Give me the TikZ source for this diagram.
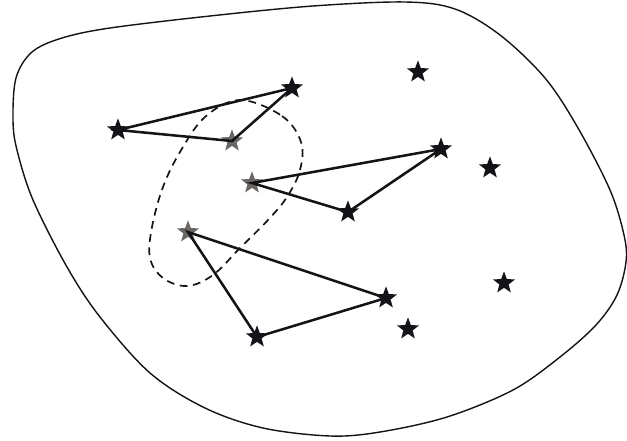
\documentclass[tikz,border=0pt]{standalone}
\usepackage{xcolor}
\usepackage{tikz}
\usetikzlibrary{shapes.geometric}
\definecolor{inkdark}{RGB}{20,20,24}
\definecolor{inkgrey}{RGB}{105,102,100}

\begin{document}
\begin{tikzpicture}[x=0.025cm, y=-0.025cm,
 starpt/.style={star, star points=5, star point ratio=2.4,
          fill=inkdark, draw=none, minimum size=0.58cm, inner sep=0pt},
 starsel/.style={starpt, fill=inkgrey},
 setline/.style={draw=inkdark, line width=1.8pt, line cap=round},
 hull/.style={draw=inkdark, line width=1pt},
 dashloop/.style={draw=inkdark, line width=1.2pt, dash pattern=on 5.5pt off 4pt}
]
\useasboundingbox (0,0) rectangle (627,441);
% Outer region
\draw[hull] plot[smooth cycle, tension=0.55] coordinates {
 (13,120) (16,78) (32,52) (62,38) (110,28) (210,16) (313,6) (405,2)
 (455,9) (500,35) (545,78) (578,128) (610,190) (624,235) (626,262)
 (617,295) (596,325) (560,357) (513,390) (447,417) (380,432) (330,436)
 (263,428) (205,408) (150,373) (100,317) (67,267) (33,200) (17,150)};
% Dashed loop round the three picked points
\draw[dashloop] plot[smooth cycle, tension=0.6] coordinates {
 (240,100) (282,116) (301,142) (300,170) (287,197) (268,220) (240,248)
 (213,275) (187,286) (163,278) (150,258) (152,227) (163,187) (180,152)
 (205,117)};
% Stars of the three triangles
\node[starpt] (a1) at (118,130) {};
\node[starpt] (a2) at (292,88) {};
\node[starsel] (a3) at (232,141) {};
\node[starsel] (b1) at (252,183) {};
\node[starpt] (b2) at (441,149) {};
\node[starpt] (b3) at (348,212) {};
\node[starsel] (c1) at (188,232) {};
\node[starpt] (c2) at (386,298) {};
\node[starpt] (c3) at (257,337) {};
% Loose stars
\node[starpt] (s1) at (418,72) {};
\node[starpt] (s2) at (490,168) {};
\node[starpt] (s3) at (504,283) {};
\node[starpt] (s4) at (408,329) {};
% Triangles
\draw[setline] (a1.center) -- (a2.center) -- (a3.center) -- cycle;
\draw[setline] (b1.center) -- (b2.center) -- (b3.center) -- cycle;
\draw[setline] (c1.center) -- (c2.center) -- (c3.center) -- cycle;
\end{tikzpicture}
\end{document}
